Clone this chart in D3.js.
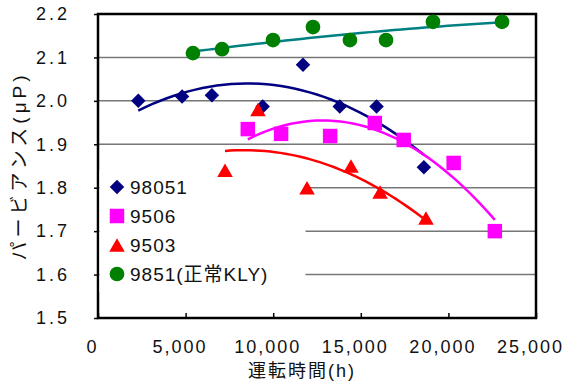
<!DOCTYPE html>
<html lang="ja">
<head>
<meta charset="UTF-8">
<title>パービアンス</title>
<script src="https://cdn.jsdelivr.net/npm/d3@7"></script>
<style>
    body { margin: 0; background: #fff; }
    svg text { font-family: "Liberation Sans", Arial, "Noto Sans CJK JP", sans-serif; fill: #111; }
    .tick text { font-size: 18px; letter-spacing: 3px; }
    .xax .tick text { letter-spacing: 2px; }
    .grid line { stroke: #777; stroke-width: 1.5; }
</style>
</head>
<body>
<svg width="564" height="383"></svg>
<script>
// data
var seriesNames = ["98051", "9506", "9503", "9851(正常KLY)"];
var hours98051 = [2300, 4800, 6500, 9400, 11700, 13800, 15900, 18600];
var perv98051  = [2.000, 2.010, 2.013, 1.987, 2.083, 1.987, 1.987, 1.847];
var hours9506  = [8550, 10450, 13250, 15800, 17450, 20300, 22650];
var perv9506   = [1.935, 1.924, 1.919, 1.949, 1.910, 1.857, 1.700];
var hours9503  = [7250, 9130, 11930, 14440, 16100, 18720];
var perv9503   = [1.840, 1.980, 1.800, 1.850, 1.790, 1.730];
var hours9851  = [5420, 7080, 9990, 12270, 14380, 16440, 19120, 23060];
var perv9851   = [2.110, 2.119, 2.140, 2.170, 2.140, 2.140, 2.182, 2.182];
var xTicks = [0, 5000, 10000, 15000, 20000, 25000];
var yTicks = [1.5, 1.6, 1.7, 1.8, 1.9, 2.0, 2.1, 2.2];

var svg = d3.select("svg");
var plotL = 98, plotR = 536, plotT = 14, plotB = 318;
var x = d3.scaleLinear().domain([0, 25000]).range([plotL, plotR]);
var y = d3.scaleLinear().domain([1.5, 2.2]).range([plotB, plotT]);

// dy: triangles are centred on their box, not their centroid
var series = [
    {name: seriesNames[0], xs: hours98051, ys: perv98051, color: "#000080", line: "#000080", shape: d3.symbolSquare, size: 105, rot: 45, dy: 0},
    {name: seriesNames[1], xs: hours9506, ys: perv9506, color: "#ff00ff", line: "#ff00ff", shape: d3.symbolSquare, size: 210, rot: 0, dy: 0},
    {name: seriesNames[2], xs: hours9503, ys: perv9503, color: "#ff0000", line: "#ff0000", shape: d3.symbolTriangle, size: 105, rot: 0, dy: 2.2},
    {name: seriesNames[3], xs: hours9851, ys: perv9851, color: "#008000", line: "#008080", shape: d3.symbolCircle, size: 170, rot: 0, dy: 0}
];

// grid
svg.append("g").attr("class", "grid")
    .selectAll("line").data(yTicks.slice(1, -1)).enter().append("line")
    .attr("x1", plotL).attr("x2", plotR)
    .attr("y1", function (d) { return y(d); })
    .attr("y2", function (d) { return y(d); });

// axes
var axisY = d3.axisLeft(y).tickValues(yTicks).tickSize(4).tickPadding(24).tickFormat(d3.format(".1f"));
var axisX = d3.axisBottom(x).tickValues(xTicks).tickSize(-5).tickPadding(22).tickFormat(d3.format(","));
var gy = svg.append("g").attr("transform", "translate(" + plotL + ",0)").call(axisY);
var gx = svg.append("g").attr("class", "xax").attr("transform", "translate(0," + plotB + ")").call(axisX);
gy.select(".domain").remove();
gx.select(".domain").remove();
gy.selectAll(".tick line").attr("stroke", "#000").attr("stroke-width", 1.5);
gx.selectAll(".tick line").attr("stroke", "#000").attr("stroke-width", 1.5);
gx.selectAll(".tick text").attr("dx", "-6");

// plot frame
svg.append("rect")
    .attr("x", plotL).attr("y", plotT)
    .attr("width", plotR - plotL).attr("height", plotB - plotT)
    .attr("fill", "none").attr("stroke", "#000").attr("stroke-width", 2.5);

// axis titles
svg.append("text")
    .attr("transform", "translate(26,166) rotate(-90)")
    .attr("text-anchor", "middle")
    .style("font-size", "19px").style("letter-spacing", "4px")
    .text("パービアンス(μP)");
svg.append("text")
    .attr("x", 302).attr("y", 377)
    .attr("text-anchor", "middle")
    .style("font-size", "18px").style("letter-spacing", "2px")
    .text("運転時間(h)");

// legend background hides the grid underneath
svg.append("rect").attr("x", plotL + 1.5).attr("y", 170).attr("width", 206).attr("height", 122).attr("fill", "#fff");

// quadratic least-squares trendline, like the spreadsheet's order-2 fit
function quadFit(xs, ys) {
    var s = [0, 0, 0, 0, 0], t = [0, 0, 0];
    xs.forEach(function (v, i) {
        var u = v / 10000;
        for (var k = 0; k < 5; k++) s[k] += Math.pow(u, k);
        for (var k = 0; k < 3; k++) t[k] += ys[i] * Math.pow(u, k);
    });
    var m = [[s[0], s[1], s[2], t[0]], [s[1], s[2], s[3], t[1]], [s[2], s[3], s[4], t[2]]];
    for (var i = 0; i < 3; i++) {
        for (var j = i + 1; j < 3; j++) {
            var f = m[j][i] / m[i][i];
            for (var k = i; k < 4; k++) m[j][k] -= f * m[i][k];
        }
    }
    var c = [0, 0, 0];
    for (var i = 2; i >= 0; i--) {
        var sum = m[i][3];
        for (var k = i + 1; k < 3; k++) sum -= m[i][k] * c[k];
        c[i] = sum / m[i][i];
    }
    return function (v) { var u = v / 10000; return c[0] + c[1] * u + c[2] * u * u; };
}

var line = d3.line().x(function (d) { return x(d[0]); }).y(function (d) { return y(d[1]); });

series.forEach(function (s) {
    var fit = quadFit(s.xs, s.ys);
    var lo = d3.min(s.xs), hi = d3.max(s.xs);
    var pts = d3.range(0, 41).map(function (i) {
        var v = lo + (hi - lo) * i / 40;
        return [v, fit(v)];
    });
    svg.append("path").attr("d", line(pts))
        .attr("fill", "none").attr("stroke", s.line).attr("stroke-width", 2.5);
});

series.forEach(function (s) {
    svg.append("g").selectAll("path")
        .data(s.xs.map(function (v, i) { return [v, s.ys[i]]; }))
        .enter().append("path")
        .attr("d", d3.symbol().type(s.shape).size(s.size))
        .attr("transform", function (d) { return "translate(" + x(d[0]) + "," + (y(d[1]) + s.dy) + ") rotate(" + s.rot + ")"; })
        .attr("fill", s.color);
});

// legend
var legend = svg.append("g").selectAll("g").data(series).enter().append("g")
    .attr("transform", function (d, i) { return "translate(117," + (187 + i * 29) + ")"; });
legend.append("path")
    .attr("d", function (d) { return d3.symbol().type(d.shape).size(d.size)(); })
    .attr("transform", function (d) { return "translate(0," + d.dy + ") rotate(" + d.rot + ")"; })
    .attr("fill", function (d) { return d.color; });
legend.append("text")
    .attr("x", 13).attr("dy", "0.36em")
    .style("font-size", "19px").style("letter-spacing", "1px")
    .text(function (d) { return d.name; });
</script>
</body>
</html>
